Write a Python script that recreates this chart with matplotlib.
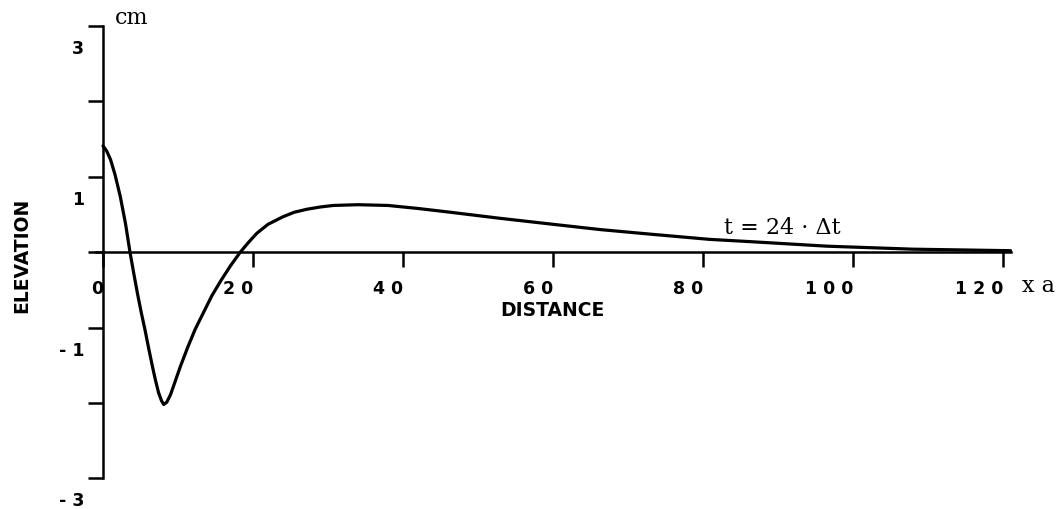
import matplotlib
matplotlib.use("Agg")
import matplotlib.pyplot as plt
from matplotlib.transforms import ScaledTranslation

# elevation profile (x in units of a, y in cm)
distance = [0, 0.5, 1.0, 1.6, 2.3, 3.0, 3.6, 4.1, 4.6, 5.1, 5.6, 6.1, 6.6,
            7.0, 7.4, 7.8, 8.1, 8.5, 9.0, 9.6, 10.3, 11.3, 12.3, 13.4, 14.5,
            15.7, 17.0, 18.3, 19.4, 20.5, 22.0, 24.0, 25.5, 27.2, 29.0, 30.7,
            34.0, 38.0, 42.0, 46.3, 52.9, 60.0, 66.3, 72.9, 80.9, 86.3, 96.5,
            108.0, 121.0]
elevation = [1.41, 1.34, 1.23, 1.03, 0.74, 0.38, 0.0, -0.28, -0.55, -0.80,
             -1.03, -1.28, -1.52, -1.70, -1.86, -1.97, -2.02, -1.99, -1.89,
             -1.72, -1.52, -1.26, -1.02, -0.80, -0.58, -0.38, -0.18, 0.0, 0.13,
             0.25, 0.37, 0.47, 0.53, 0.57, 0.60, 0.62, 0.63, 0.62, 0.58, 0.53,
             0.45, 0.37, 0.30, 0.24, 0.17, 0.14, 0.08, 0.04, 0.02]

x_ticks = [0, 20, 40, 60, 80, 100, 120]
x_labels = ["0", "2 0", "4 0", "6 0", "8 0", "1 0 0", "1 2 0"]
y_ticks = [-3, -2, -1, 0, 1, 2, 3]
y_labels = ["- 3", "", "- 1", "", "1", "", "3"]

fig = plt.figure(figsize=(10.6, 5.1), dpi=100)
ax = fig.add_axes([95.5 / 1060, 8 / 510, 922.5 / 1060, 497.6 / 510])
ax.set_xlim(-1, 122)
ax.set_ylim(-3.3, 3.3)

ax.plot(distance, elevation, color="black", lw=2.3,
        solid_capstyle="round", solid_joinstyle="round")

for s in ["top", "right"]:
    ax.spines[s].set_visible(False)
ax.spines["bottom"].set_position(("data", 0))
ax.spines["bottom"].set_bounds(-0.9, 121)
ax.spines["left"].set_position(("data", 0))
ax.spines["left"].set_bounds(-3, 3)
for s in ["bottom", "left"]:
    ax.spines[s].set_linewidth(1.8)

bold = dict(family="DejaVu Sans", weight="bold", size=12.5)
ax.set_xticks(x_ticks)
ax.set_xticklabels(x_labels, ha="right", **bold)
ax.set_yticks(y_ticks)
ax.set_yticklabels(y_labels, **bold)
ax.tick_params(axis="x", direction="out", length=10.5, width=1.8, pad=9)
ax.tick_params(axis="y", direction="out", length=10.5, width=1.8, pad=3)

# y labels sit a bit below their ticks
off = ScaledTranslation(0, -0.2, fig.dpi_scale_trans)
for lab in ax.get_yticklabels():
    lab.set_transform(lab.get_transform() + off)

fig.text(552 / 1060, 1 - 311 / 510, "DISTANCE", ha="center", va="center",
         family="DejaVu Sans", weight="bold", size=13.5)
fig.text(22 / 1060, 1 - 255 / 510, "ELEVATION", ha="center", va="center",
         rotation=90, family="DejaVu Sans", weight="bold", size=13.5)
fig.text(132 / 1060, 1 - 18 / 510, "cm", ha="center", va="center",
         family="DejaVu Serif", size=16)
fig.text(1038 / 1060, 1 - 286 / 510, "x a", ha="center", va="center",
         family="DejaVu Serif", size=16)
fig.text(782 / 1060, 1 - 228 / 510, "t = 24 · \u0394t", ha="center",
         va="center", family="DejaVu Serif", size=16)

fig.savefig("out.png", dpi=100)
